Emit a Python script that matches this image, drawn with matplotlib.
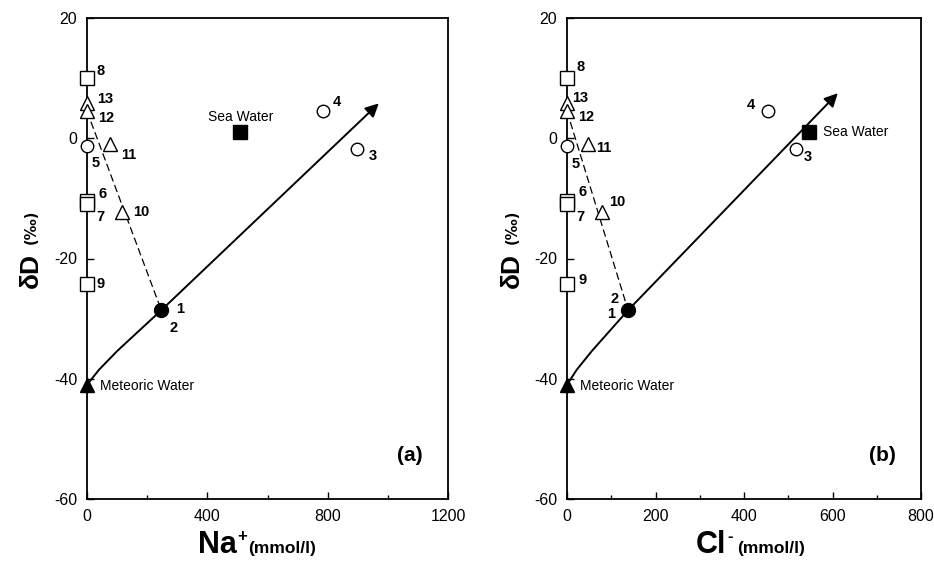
import matplotlib.pyplot as plt
from matplotlib.ticker import MultipleLocator

plt.rcParams['font.family'] = ['Liberation Sans', 'DejaVu Sans']
plt.rcParams['axes.unicode_minus'] = False

# sample ids and delta-D (permil), shared by both panels
sq_ids = ['8', '6', '9']
sq_dD = [10.0, -10.5, -24.3]
tri_ids = ['13', '12', '11', '10']
tri_dD = [5.8, 4.5, -1.0, -12.3]
circ_ids = ['5', '4', '3']
circ_dD = [-1.3, 4.6, -1.8]
mix_dD_1 = -28.6
meteoric_dD = -41.0
sea_dD = 1.0

# panel (a): Na+ (mmol/l)
na_sq = [0, 0, 0]
na_tri = [0, 0, 76, 118]
na_circ = [0, 786, 898]
na_mix_1 = 247
na_sea = 510
na_line_x = [0, 40, 100, 247, 970]
na_line_y = [-41.0, -38.5, -35.4, -28.6, 5.8]

# panel (b): Cl- (mmol/l)
cl_sq = [0, 0, 0]
cl_tri = [0, 0, 47, 79]
cl_circ = [0, 454, 517]
cl_mix_1 = 138
cl_sea = 547
cl_line_x = [0, 22, 56, 138, 612]
cl_line_y = [-41.0, -38.5, -35.4, -28.6, 7.5]

# label offsets in points
off_a = {'8': (7, 5, 'left'), '6': (8, 5, 'left'), '9': (7, 0, 'left'),
         '13': (7, 3, 'left'), '12': (8, -5, 'left'), '11': (8, -8, 'left'),
         '10': (8, 0, 'left'), '5': (3, -12, 'left'), '4': (7, 6, 'left'),
         '3': (8, -5, 'left')}
off_b = {'8': (7, 8, 'left'), '6': (8, 7, 'left'), '9': (8, 3, 'left'),
         '13': (4, 4, 'left'), '12': (8, -4, 'left'), '11': (6, -3, 'left'),
         '10': (5, 7, 'left'), '5': (3, -13, 'left'), '4': (-9, 4, 'right'),
         '3': (6, -6, 'left')}


def draw_panel(ax, xs_sq, xs_tri, xs_circ, x_mix, x_sea, lx, ly, offs,
               xmax, xmajor, letter, xbig, xsup, xsplit, sea_side, mix_lab_side):
    # mixing line with arrow
    ax.plot(lx[:-1], ly[:-1], color='black', lw=1.4, zorder=2)
    ax.annotate('', xy=(lx[-1], ly[-1]), xytext=(lx[-2], ly[-2]),
                arrowprops=dict(arrowstyle='-|>', color='black', lw=1.4,
                                mutation_scale=20, shrinkA=0, shrinkB=0))
    # dashed line from triangles to sample 1
    ax.plot([xs_tri[1], x_mix], [tri_dD[1], mix_dD_1],
            color='black', lw=0.9, ls=(0, (6, 3)), zorder=2)

    mk = dict(mec='black', mew=1.0, clip_on=False)
    ax.plot(xs_sq, sq_dD, 's', ms=10, mfc='white', zorder=4, **mk)
    ax.plot(xs_sq[1], sq_dD[1] - 0.4, 's', ms=10, mfc='white', zorder=4, **mk)
    ax.plot(xs_tri, tri_dD, '^', ms=10, mfc='white', zorder=4, **mk)
    ax.plot(xs_circ, circ_dD, 'o', ms=9, mfc='white', zorder=4, **mk)
    ax.plot(x_mix, mix_dD_1, 'o', ms=10, mfc='black', zorder=5, **mk)
    ax.plot(x_sea, sea_dD, 's', ms=10, mfc='black', zorder=5, **mk)
    ax.plot(0, meteoric_dD, '^', ms=10, mfc='black', zorder=5, **mk)

    pts = dict(zip(sq_ids, zip(xs_sq, sq_dD)))
    pts.update(zip(tri_ids, zip(xs_tri, tri_dD)))
    pts.update(zip(circ_ids, zip(xs_circ, circ_dD)))
    lab = dict(textcoords='offset points', va='center', fontsize=10.5, fontweight='bold')
    for k, (x, y) in pts.items():
        dx, dy, ha = offs[k]
        ax.annotate(k, (x, y), xytext=(dx, dy), ha=ha, **lab)
    # 7 shares square with 6
    ax.annotate('7', (0, sq_dD[1]), xytext=(7, -11), ha='left', **lab)
    # 1 and 2 share the filled circle
    if mix_lab_side == 'right':
        ax.annotate('1', (x_mix, mix_dD_1), xytext=(11, 1), ha='left', **lab)
        ax.annotate('2', (x_mix, mix_dD_1), xytext=(6, -13), ha='left', **lab)
    else:
        ax.annotate('2', (x_mix, mix_dD_1), xytext=(-7, 8), ha='right', **lab)
        ax.annotate('1', (x_mix, mix_dD_1), xytext=(-9, -3), ha='right', **lab)

    if sea_side == 'above':
        ax.annotate('Sea Water', (x_sea, sea_dD), xytext=(0, 11), textcoords='offset points',
                    ha='center', va='center', fontsize=10)
    else:
        ax.annotate('Sea Water', (x_sea, sea_dD), xytext=(10, 0), textcoords='offset points',
                    ha='left', va='center', fontsize=10)
    ax.annotate('Meteoric Water', (0, meteoric_dD), xytext=(9, -1), textcoords='offset points',
                ha='left', va='center', fontsize=10)

    ax.set_xlim(0, xmax)
    ax.set_ylim(-60, 20)
    ax.xaxis.set_major_locator(MultipleLocator(xmajor))
    ax.xaxis.set_minor_locator(MultipleLocator(xmajor / 2))
    ax.yaxis.set_major_locator(MultipleLocator(20))
    ax.tick_params(direction='in', length=5, width=1.0, labelsize=11.5, pad=7)
    ax.tick_params(which='minor', direction='in', length=3, width=1.0)
    for s in ax.spines.values():
        s.set_linewidth(1.3)

    ax.text(0.93, 0.09, letter, transform=ax.transAxes, ha='right', va='center',
            fontsize=15, fontweight='bold')
    ax.text(-0.155, 0.475, 'δD', transform=ax.transAxes, rotation=90,
            ha='center', va='center', fontsize=19, fontweight='bold')
    ax.text(-0.155, 0.565, '(‰)', transform=ax.transAxes, rotation=90,
            ha='center', va='center', fontsize=10.5, fontweight='bold',
            family=['DejaVu Sans'])
    t = ax.text(xsplit - 0.025, -0.112, xbig, transform=ax.transAxes, ha='right',
                va='baseline', fontsize=22, fontweight='bold')
    ax.annotate(xsup, (1, 1), xycoords=t, xytext=(0.5, -5), textcoords='offset points',
                ha='left', va='center', fontsize=12, fontweight='bold')
    ax.text(xsplit + 0.005, -0.112, '(mmol/l)', transform=ax.transAxes, ha='left',
            va='baseline', fontsize=12.5, fontweight='bold')


fig = plt.figure(figsize=(9.34, 5.64), dpi=100)
ax1 = fig.add_axes([87 / 934, 1 - 499 / 564, 361 / 934, 481 / 564])
ax2 = fig.add_axes([567 / 934, 1 - 499 / 564, 354 / 934, 481 / 564])

draw_panel(ax1, na_sq, na_tri, na_circ, na_mix_1, na_sea, na_line_x, na_line_y,
           off_a, 1200, 400, '(a)', 'Na', '+', 0.44, 'above', 'right')
draw_panel(ax2, cl_sq, cl_tri, cl_circ, cl_mix_1, cl_sea, cl_line_x, cl_line_y,
           off_b, 800, 200, '(b)', 'Cl', '-', 0.475, 'right', 'left')

fig.savefig('out.png', dpi=100)
